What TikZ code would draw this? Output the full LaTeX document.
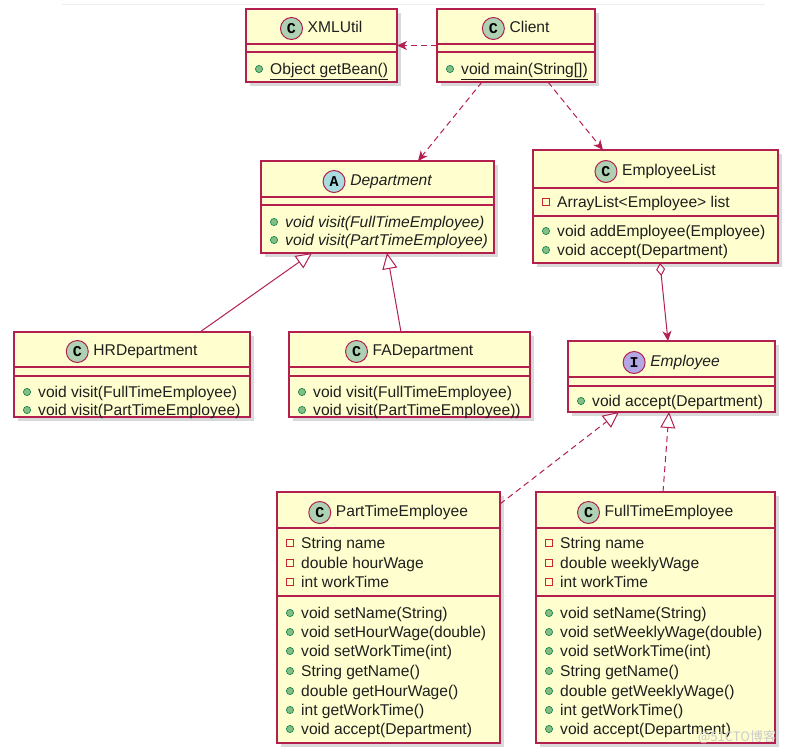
\documentclass[tikz,border=0pt]{standalone}
\usepackage{fontspec}
\setmainfont{Liberation Sans}
\newfontfamily\monob{Liberation Mono}
\newfontfamily\cjk{Noto Sans CJK SC}
\usetikzlibrary{arrows.meta,shadows}
\definecolor{umlfill}{HTML}{FEFECE}
\definecolor{umlborder}{HTML}{B3204F}
\definecolor{circC}{HTML}{ADD1B2}
\definecolor{circA}{HTML}{A9DCDF}
\definecolor{circI}{HTML}{B4A7E5}
\definecolor{pubfill}{HTML}{84BE84}
\definecolor{pubdraw}{HTML}{038048}
\definecolor{privdraw}{HTML}{C82930}
\tikzset{
  classbox/.style={draw=umlborder, line width=1.4pt, fill=umlfill, inner sep=0pt, outer sep=0pt,
    drop shadow={shadow xshift=3.5pt, shadow yshift=-3.5pt, opacity=0.3, fill=black!50}},
  sepline/.style={draw=umlborder, line width=1.1pt},
  txt/.style={inner sep=0pt, font=\fontsize{15.6}{18}\selectfont, text=black!88},
  spot/.style={circle, draw=umlborder, line width=1pt, minimum size=22pt, inner sep=0pt,
    font=\monob\bfseries\fontsize{15}{15}\selectfont},
  conn/.style={draw=umlborder, line width=1pt},
  dashedconn/.style={conn, dash pattern=on 6pt off 4pt},
  deparrow/.style={dashedconn, -{Stealth[length=10pt, width=9pt, inset=3pt]}},
  genarrow/.style={conn, -{Triangle[open, length=16pt, width=15pt, fill=white]}},
  realarrow/.style={dashedconn, -{Triangle[open, length=16pt, width=15pt, fill=white]}},
  aggarrow/.style={conn, {Diamond[open, length=13pt, width=9pt, fill=white]}-{Stealth[length=10pt, width=9pt, inset=3pt]}},
}
\newcounter{memb}
\newcommand{\umlcls}[5]{\node[classbox, minimum width={(#4)-(#2)}, minimum height={(#5)-(#3)}] (#1) at ({((#2)+(#4))/2},{((#3)+(#5))/2}) {};}
\newcommand{\umlsep}[3]{\draw[sepline] (#1,#3) -- (#2,#3);}
\newcommand{\umlhead}[6]{%
  \node[txt, anchor=mid] (#1t) at ({(#2)+13.5},{(#3)+2.5}) {#6};
  \node[spot, fill=#4] (#1c) at ([xshift=-16pt, yshift=1pt]#1t.mid west) {#5};}
\newcommand{\pubm}[3]{%
  \stepcounter{memb}%
  \fill[pubfill, draw=pubdraw, line width=0.6pt] ({(#1)+13},#2) circle (3.6pt);
  \node[txt, anchor=mid west] (m\arabic{memb}) at ({(#1)+24},{(#2)+2.5}) {#3};}
\newcommand{\privf}[3]{%
  \stepcounter{memb}%
  \draw[privdraw, line width=0.8pt] ({(#1)+9.5},{(#2)-3.5}) rectangle ++(7,7);
  \node[txt, anchor=mid west] (m\arabic{memb}) at ({(#1)+24},{(#2)+2.5}) {#3};}
\begin{document}
\begin{tikzpicture}[x=1pt, y=-1pt]
\useasboundingbox (0,0) rectangle (795,753);
\draw[black!7, line width=0.8pt] (62,4) -- (765,4);

% XMLUtil
\umlcls{xml}{246}{9}{397}{82}
\umlhead{xml}{321.5}{27}{circC}{C}{XMLUtil}
\umlsep{246}{397}{44}
\umlsep{246}{397}{52}
\pubm{246}{69}{\underline{Object getBean()}}

% Client
\umlcls{client}{437}{9}{595}{82}
\umlhead{client}{516}{27}{circC}{C}{Client}
\umlsep{437}{595}{44}
\umlsep{437}{595}{52}
\pubm{437}{69}{\underline{void main(String[])}}

% Department
\umlcls{dept}{261}{161}{494}{253}
\umlhead{dept}{377.5}{180}{circA}{A}{\itshape Department}
\umlsep{261}{494}{197}
\umlsep{261}{494}{205}
\pubm{261}{222}{\itshape void visit(FullTimeEmployee)}
\pubm{261}{240}{\itshape void visit(PartTimeEmployee)}

% EmployeeList
\umlcls{elist}{533}{150}{778}{263}
\umlhead{elist}{655.5}{170}{circC}{C}{EmployeeList}
\umlsep{533}{778}{188}
\privf{533}{202}{ArrayList<Employee> list}
\umlsep{533}{778}{216}
\pubm{533}{231}{void addEmployee(Employee)}
\pubm{533}{250}{void accept(Department)}

% HRDepartment
\umlcls{hr}{14}{332}{250}{417}
\umlhead{hr}{132}{350}{circC}{C}{HRDepartment}
\umlsep{14}{250}{367}
\umlsep{14}{250}{376}
\pubm{14}{392}{void visit(FullTimeEmployee)}
\pubm{14}{410}{void visit(PartTimeEmployee)}

% FADepartment
\umlcls{fa}{289}{332}{530}{417}
\umlhead{fa}{409.5}{350}{circC}{C}{FADepartment}
\umlsep{289}{530}{367}
\umlsep{289}{530}{376}
\pubm{289}{392}{void visit(FullTimeEmployee)}
\pubm{289}{410}{void visit(PartTimeEmployee))}

% Employee
\umlcls{emp}{568}{341}{775}{412}
\umlhead{emp}{671.5}{361}{circI}{I}{\itshape Employee}
\umlsep{568}{775}{377}
\umlsep{568}{775}{386}
\pubm{568}{401}{void accept(Department)}

% PartTimeEmployee
\umlcls{pte}{277}{492}{500}{743}
\umlhead{pte}{388.5}{511}{circC}{C}{PartTimeEmployee}
\umlsep{277}{500}{528}
\privf{277}{543}{String name}
\privf{277}{563}{double hourWage}
\privf{277}{582}{int workTime}
\umlsep{277}{500}{596}
\pubm{277}{613}{void setName(String)}
\pubm{277}{632}{void setHourWage(double)}
\pubm{277}{651}{void setWorkTime(int)}
\pubm{277}{671}{String getName()}
\pubm{277}{691}{double getHourWage()}
\pubm{277}{710}{int getWorkTime()}
\pubm{277}{729}{void accept(Department)}

% FullTimeEmployee
\umlcls{fte}{536}{492}{775}{743}
\umlhead{fte}{655.5}{511}{circC}{C}{FullTimeEmployee}
\umlsep{536}{775}{528}
\privf{536}{543}{String name}
\privf{536}{563}{double weeklyWage}
\privf{536}{582}{int workTime}
\umlsep{536}{775}{596}
\pubm{536}{613}{void setName(String)}
\pubm{536}{632}{void setWeeklyWage(double)}
\pubm{536}{651}{void setWorkTime(int)}
\pubm{536}{671}{String getName()}
\pubm{536}{691}{double getWeeklyWage()}
\pubm{536}{710}{int getWorkTime()}
\pubm{536}{729}{void accept(Department)}

% connectors
\draw[deparrow] (client.west) -- (xml.east);
\draw[deparrow] ([xshift=-34pt]client.south) -- ([xshift=40.5pt]dept.north);
\draw[deparrow] ([xshift=32pt]client.south) -- ([xshift=-52.5pt]elist.north);
\draw[aggarrow] ([xshift=4.5pt]elist.south) -- ([xshift=-3.5pt]emp.north);
\draw[genarrow] ([xshift=68pt]hr.north) -- ([xshift=-65.5pt]dept.south);
\draw[genarrow] ([xshift=-8.5pt]fa.north) -- ([xshift=9.5pt]dept.south);
\draw[realarrow] ([yshift=-12pt]pte.north east) -- ([xshift=-52.5pt]emp.south);
\draw[realarrow] ([xshift=7.5pt]fte.north) -- ([xshift=-2.5pt]emp.south);

% watermark
\node[inner sep=0pt, anchor=mid west, text=black!20, font=\cjk\fontsize{13}{13}\selectfont] (wm) at (698,739) {@51CTO博客};
\end{tikzpicture}
\end{document}
